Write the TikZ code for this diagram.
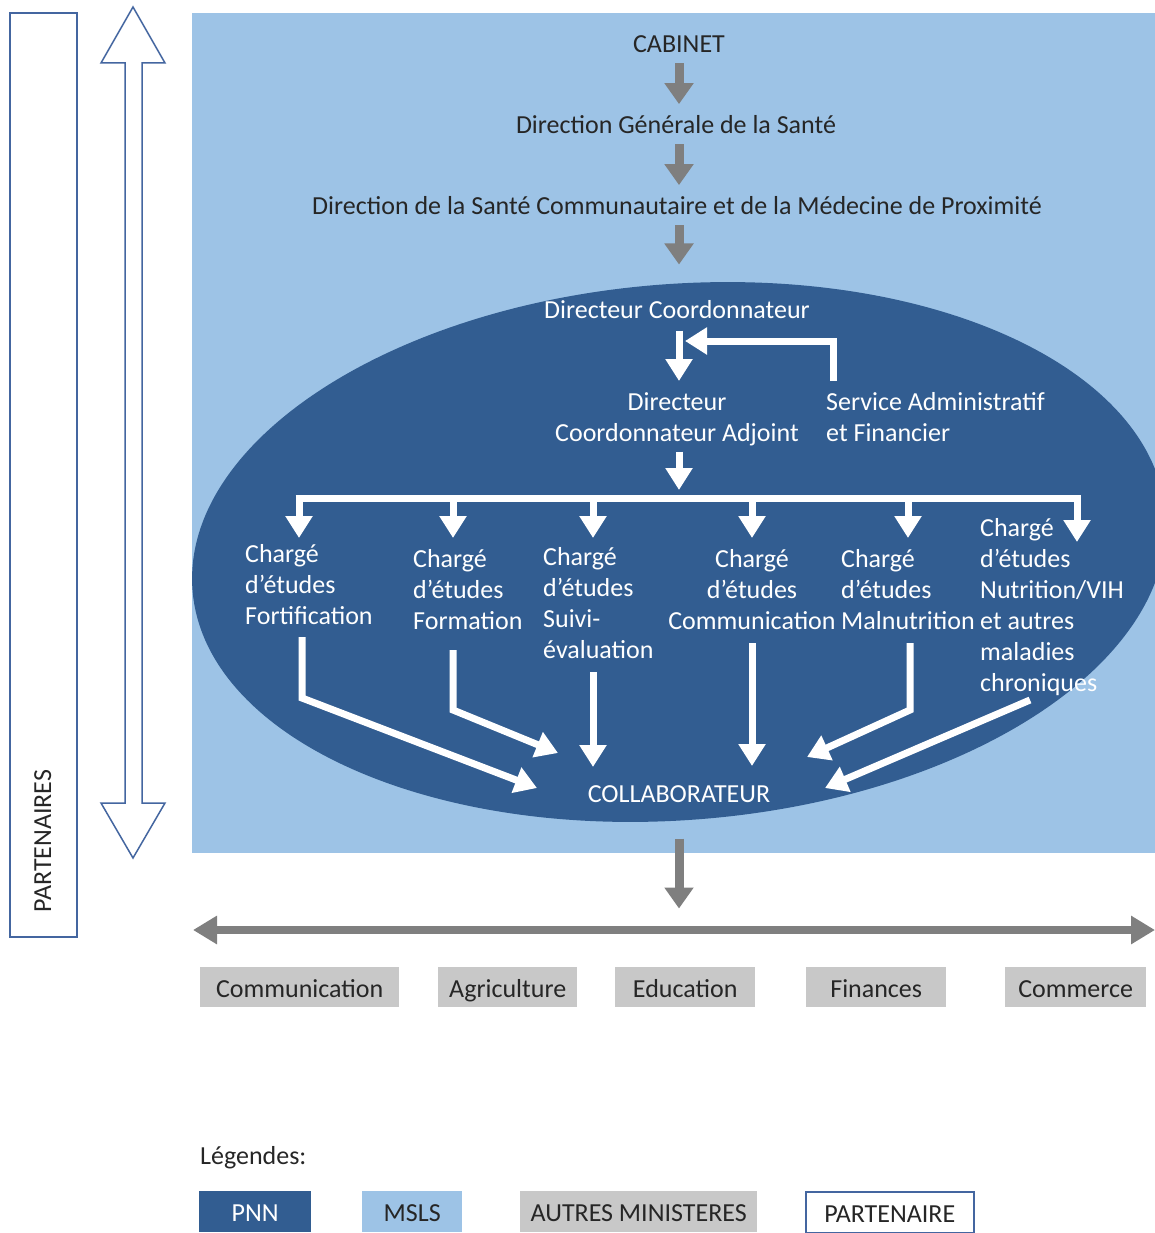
\documentclass[tikz,border=0pt]{standalone}
\usepackage{fontspec}
\setmainfont{Carlito}
\usetikzlibrary{arrows.meta,calc,positioning}
\definecolor{pnn}{RGB}{50,93,145}
\definecolor{msls}{RGB}{157,195,230}
\definecolor{autres}{RGB}{200,200,200}
\definecolor{fleche}{RGB}{127,127,127}
\definecolor{partenaire}{RGB}{68,102,160}
\definecolor{texte}{RGB}{38,38,38}

\begin{document}
\begin{tikzpicture}[x=1pt, y=-1pt, line join=miter,
    every node/.style={font=\fontsize{26}{31}\selectfont, text=texte, inner sep=0pt, execute at begin node=\strut},
    fleche grise/.style={draw=fleche, line width=9pt, -{Triangle[width=28pt,length=21pt]}},
    double fleche/.style={draw=fleche, line width=8pt, {Triangle[width=27pt,length=24pt]}-{Triangle[width=27pt,length=24pt]}},
    fleche blanche/.style={draw=white, line width=7pt, -{Triangle[width=26pt,length=22pt]}},
    trait blanc/.style={draw=white, line width=7pt},
    charge/.style={text=white, align=left, anchor=north west},
    ministere/.style={fill=autres, minimum width=#1, minimum height=40pt, text height=20pt, text depth=0pt, anchor=north west},
    legende/.style={minimum height=41pt, text height=20pt, text depth=0pt, anchor=north west}
  ]
  \useasboundingbox (0,0) rectangle (1155,1233);

  \fill[msls] (192,13) rectangle (1155,853);
  \begin{scope}
    \clip (192,13) rectangle (1155,853);
    \fill[pnn, rotate around={4.5:(679,552)}] (679,552) ellipse [x radius=488, y radius=268];
  \end{scope}

  % partenaires
  \draw[partenaire, line width=1.5pt] (10,13) rectangle (77,937);
  \node[rotate=90] (part) at (45,841) {PARTENAIRES};
  \draw[partenaire, line width=1.5pt, fill=white] (133,7) -- (165,63) -- (142,63) -- (142,803) -- (165,803) -- (133,858)
    -- (101,803) -- (125,803) -- (125,63) -- (101,63) -- cycle;

  % hierarchie
  \node[anchor=base] (cab) at (679,53) {CABINET};
  \node[anchor=base] (dgs) at (676,134) {Direction Générale de la Santé};
  \node[anchor=base] (dscmp) at (677,215) {Direction de la Santé Communautaire et de la Médecine de Proximité};
  \draw[fleche grise, shorten <=1pt, shorten >=8pt] (cab.south) -- (cab.south |- dgs.north);
  \draw[fleche grise, shorten <=1pt, shorten >=8pt] (dgs.south -| cab) -- (dscmp.north -| cab);
  \draw[fleche grise, shorten <=1pt] (dscmp.south -| cab) -- ++(0,40);

  \begin{scope}[every node/.append style={text=white}]
    \node[anchor=base] (dc) at (677,318) {Directeur Coordonnateur};
    \node[align=center, anchor=north] (dca) at (677,392) {Directeur\\Coordonnateur Adjoint};
    \node[align=left, anchor=north west] (sa) at (826,392) {Service Administratif\\et Financier};
    \node[charge] (f1) at (245,544) {Chargé\\d’études\\Fortification};
    \node[charge] (f2) at (413,549) {Chargé\\d’études\\Formation};
    \node[charge] (f3) at (543,547) {Chargé\\d’études\\Suivi-\\évaluation};
    \node[charge, align=center, anchor=north] (f4) at (752,549) {Chargé\\d’études\\Communication};
    \node[charge] (f5) at (841,549) {Chargé\\d’études\\Malnutrition};
    \node[charge] (f6) at (980,518) {Chargé\\d’études\\Nutrition/VIH\\et autres\\maladies\\chroniques};
    \node[anchor=base] (collab) at (679,802) {COLLABORATEUR};
  \end{scope}

  \coordinate (sa fin) at (685,341);
  \coordinate (bus) at (679,498);
  \draw[fleche blanche, shorten <=3pt, shorten >=11pt] (dc.south -| cab) -- (dca.north -| cab);
  \draw[fleche blanche] ([xshift=7.5pt, yshift=11pt]sa.north west) |- (sa fin);
  \draw[fleche blanche, shorten <=1pt, shorten >=8pt] (dca.south -| cab) -- (bus);
  \draw[trait blanc] (295.5,498) -- (1080.5,498);
  \foreach \x in {299,453,593,752,908}
    \draw[fleche blanche] (\x,498) -- (\x,538);
  \draw[fleche blanche] (1077,498) -- (1077,542);

  \coordinate (t1) at (537,788);
  \coordinate (t2) at (558,753);
  \coordinate (t3) at (593,767);
  \coordinate (t4) at (752,766);
  \coordinate (t5) at (807,757);
  \coordinate (t6) at (825,788);
  \draw[fleche blanche] (302,637) -- (302,698) -- (t1);
  \draw[fleche blanche] (453,650) -- (453,710) -- (t2);
  \draw[fleche blanche] (593,672) -- (t3);
  \draw[fleche blanche] (752,643) -- (t4);
  \draw[fleche blanche] (910,643) -- (910,710) -- (t5);
  \draw[fleche blanche] (1030,700) -- (t6);

  % autres ministeres
  \draw[fleche grise] (collab.south) ++(0,27) -- ++(0,70);
  \draw[double fleche] (193,930) -- (1155,930);
  \node[ministere=199pt] (com) at (200,967) {Communication};
  \node[ministere=139pt] (agri) at (438,967) {Agriculture};
  \node[ministere=140pt] (edu) at (615,967) {Education};
  \node[ministere=140pt] (fin) at (806,967) {Finances};
  \node[ministere=141pt] (comm) at (1005,967) {Commerce};

  % legendes
  \node[anchor=base west] (leg) at (200,1164) {Légendes:};
  \node[legende, fill=pnn, text=white, minimum width=112pt] (lpnn) at (199,1191) {PNN};
  \node[legende, fill=msls, minimum width=100pt] (lmsls) at (362,1191) {MSLS};
  \node[legende, fill=autres, minimum width=237pt] (lautres) at (520,1191) {AUTRES MINISTERES};
  \node[legende, draw=partenaire, line width=1.5pt, fill=white, minimum width=168pt] (lpart) at (805,1191) {PARTENAIRE};
\end{tikzpicture}
\end{document}
